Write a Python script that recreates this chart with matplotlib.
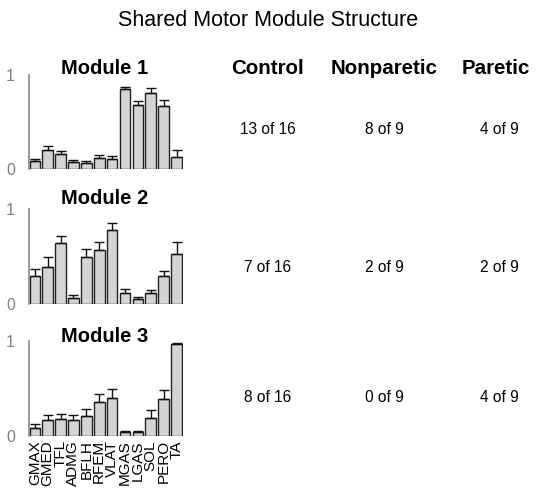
import numpy as np
import matplotlib.pyplot as plt

plt.rcParams['font.family'] = ['Liberation Sans', 'DejaVu Sans']

muscles = ['GMAX', 'GMED', 'TFL', 'ADMG', 'BFLH', 'RFEM', 'VLAT',
           'MGAS', 'LGAS', 'SOL', 'PERO', 'TA']

# mean weights and upper error (sd) per module
mod1 = [0.09, 0.20, 0.16, 0.07, 0.06, 0.12, 0.11, 0.85, 0.68, 0.81, 0.67, 0.13]
err1 = [0.02, 0.05, 0.03, 0.03, 0.02, 0.03, 0.03, 0.02, 0.04, 0.05, 0.06, 0.07]
mod2 = [0.29, 0.39, 0.64, 0.06, 0.49, 0.57, 0.78, 0.12, 0.05, 0.12, 0.30, 0.53]
err2 = [0.08, 0.10, 0.08, 0.03, 0.09, 0.08, 0.07, 0.04, 0.02, 0.03, 0.05, 0.12]
mod3 = [0.08, 0.17, 0.18, 0.17, 0.21, 0.36, 0.40, 0.04, 0.04, 0.19, 0.39, 0.97]
err3 = [0.05, 0.05, 0.05, 0.05, 0.07, 0.08, 0.10, 0.01, 0.01, 0.08, 0.09, 0.01]

groups = ['Control', 'Nonparetic', 'Paretic']
counts = [['13 of 16', '8 of 9', '4 of 9'],
          ['7 of 16', '2 of 9', '2 of 9'],
          ['8 of 16', '0 of 9', '4 of 9']]

W, H = 536, 491
fig = plt.figure(figsize=(W / 100, H / 100), dpi=100)

fig.text(268 / W, 1 - 20 / H, 'Shared Motor Module Structure',
         ha='center', va='center', fontsize=15.5)

col_x = [267, 384, 496]
for g, x in zip(groups, col_x):
    fig.text(x / W, 1 - 68 / H, g, ha='center', va='center',
             fontsize=14.8, fontweight='bold')

# axes boxes in pixels: top (value 1), bottom (value 0)
rows = [(75, 169), (209, 304), (341, 436)]
row_y = [130, 268, 398]
title_y = [68, 198, 337]
mods = [(mod1, err1), (mod2, err2), (mod3, err3)]

x = np.arange(len(muscles))
for i, ((top, bot), (vals, errs)) in enumerate(zip(rows, mods)):
    ax = fig.add_axes([29 / W, 1 - bot / H, 154 / W, (bot - top) / H])
    ax.bar(x, vals, width=0.82, color='#d4d4d4', edgecolor='#222222',
           linewidth=1.0, align='center')
    ax.errorbar(x, vals, yerr=[np.zeros(len(vals)), errs], fmt='none',
                ecolor='#111111', elinewidth=1.0, capsize=3.5, capthick=1.0)
    ax.set_xlim(-0.45, 11.5)
    ax.set_ylim(0, 1)
    for s in ['top', 'right', 'bottom']:
        ax.spines[s].set_visible(False)
    ax.spines['left'].set_color('#888888')
    ax.spines['left'].set_linewidth(1.2)
    ax.set_yticks([0, 1])
    ax.set_yticklabels(['0', '1'])
    ax.tick_params(axis='y', length=0, labelcolor='#808080', labelsize=11.5, pad=10)
    if i == 2:
        ax.set_xticks(x)
        ax.set_xticklabels(muscles, rotation=90, fontsize=11)
        ax.tick_params(axis='x', length=0, pad=3)
    else:
        ax.set_xticks([])
    fig.text(105 / W, 1 - title_y[i] / H, f'Module {i + 1}', ha='center',
             va='center', fontsize=14.5, fontweight='bold')
    for c, cx in zip(counts[i], [268, 384, 499]):
        fig.text(cx / W, 1 - row_y[i] / H, c, ha='center', va='center',
                 fontsize=11.2)

fig.savefig('out.png', dpi=100)
